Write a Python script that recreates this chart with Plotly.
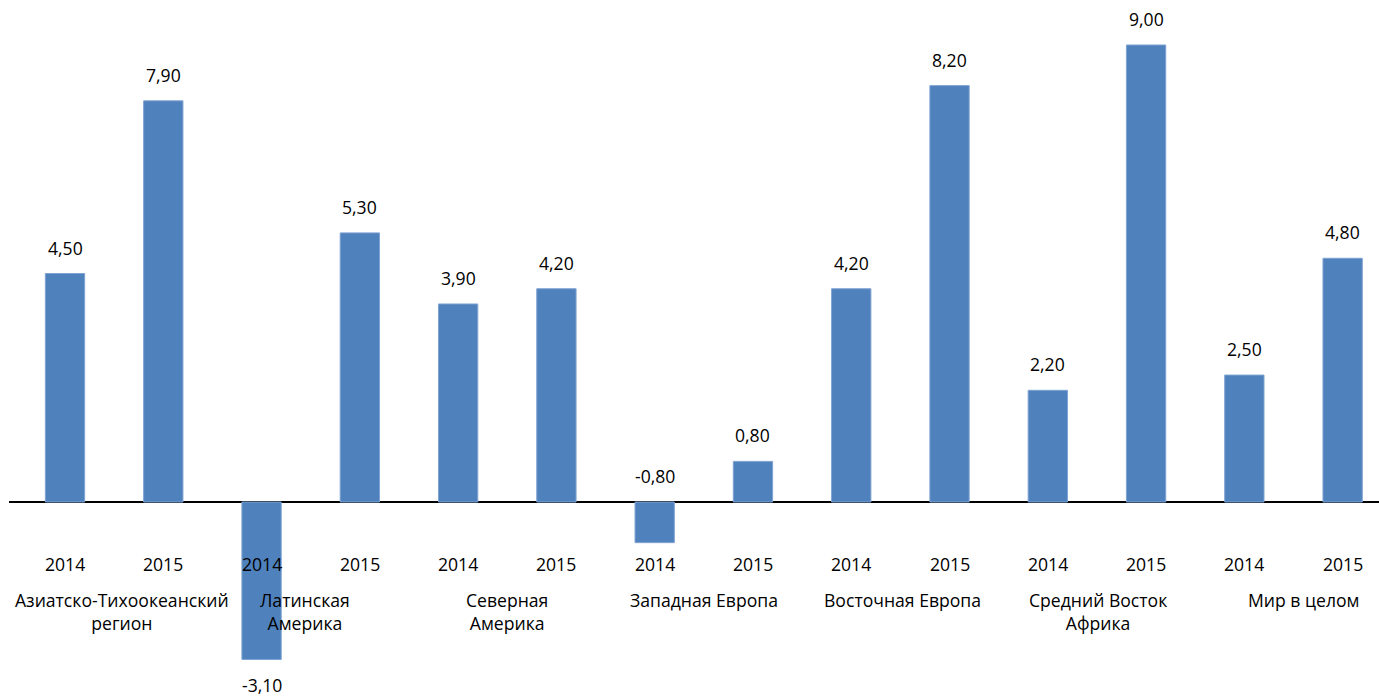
import plotly.graph_objects as go

# Growth by region, 2014 vs 2015
regions = [
    "Азиатско-Тихоокеанский<br>регион",
    "Латинская<br>Америка",
    "Северная<br>Америка",
    "Западная Европа",
    "Восточная Европа",
    "Средний Восток<br>Африка",
    "Мир в целом",
]
years = ["2014", "2015"]
values_2014 = [4.5, -3.1, 3.9, -0.8, 4.2, 2.2, 2.5]
values_2015 = [7.9, 5.3, 4.2, 0.8, 8.2, 9.0, 4.8]

BAR_COLOR = "#4F81BD"
FONT = "Open Sans"
FONT_SIZE = 17.6
# small horizontal nudges for the region captions (pixels)
REGION_XSHIFT = [8, -6, 0, 0, 2, 1, 10]

# Flatten into one bar per (region, year); x is the bar's slot index
xs, ys, yr_labels = [], [], []
for g in range(len(regions)):
    for k, vals in enumerate((values_2014, values_2015)):
        xs.append(2 * g + k)
        ys.append(vals[g])
        yr_labels.append(years[k])

fig = go.Figure(
    go.Bar(
        x=xs,
        y=ys,
        marker=dict(color=BAR_COLOR, line=dict(color="#7FA3D2", width=1)),
        width=0.4,
        hoverinfo="x+y",
    )
)

annotations = []
# Value labels above positive bars, below long negative bars,
# above the axis line for short negative bars
for x, v in zip(xs, ys):
    text = f"{v:.2f}".replace(".", ",")
    if v >= 0:
        ay, shift = v, 26
    elif v > -1:
        ay, shift = 0, 26
    else:
        ay, shift = v, -26
    annotations.append(dict(
        x=x, y=ay, xref="x", yref="y", text=text, showarrow=False,
        yanchor="middle", yshift=shift, borderpad=0,
        font=dict(family=FONT, size=FONT_SIZE, color="#000000"),
    ))

# Year labels under each bar
for x, lab in zip(xs, yr_labels):
    annotations.append(dict(
        x=x, y=-1.22, xref="x", yref="y", text=lab, showarrow=False,
        yanchor="middle",
        font=dict(family=FONT, size=FONT_SIZE, color="#000000"),
    ))

# Region labels centred under each pair of bars
for g, name in enumerate(regions):
    annotations.append(dict(
        x=2 * g + 0.5, y=-1.66, xref="x", yref="y", text=name,
        showarrow=False, yanchor="top", align="center",
        xshift=REGION_XSHIFT[g],
        font=dict(family=FONT, size=FONT_SIZE, color="#000000"),
    ))

fig.update_layout(
    width=1379,
    height=699,
    margin=dict(l=9, r=0, t=0, b=0),
    paper_bgcolor="white",
    plot_bgcolor="white",
    showlegend=False,
    annotations=annotations,
    xaxis=dict(
        range=[-0.57, 13.37],
        showgrid=False, zeroline=False, showticklabels=False,
        ticks="", showline=False, fixedrange=True,
    ),
    yaxis=dict(
        range=[-3.879, 9.886],
        showgrid=False, showticklabels=False, ticks="",
        zeroline=True, zerolinecolor="#000000", zerolinewidth=2,
        fixedrange=True,
    ),
)

fig.write_html("out.html")
